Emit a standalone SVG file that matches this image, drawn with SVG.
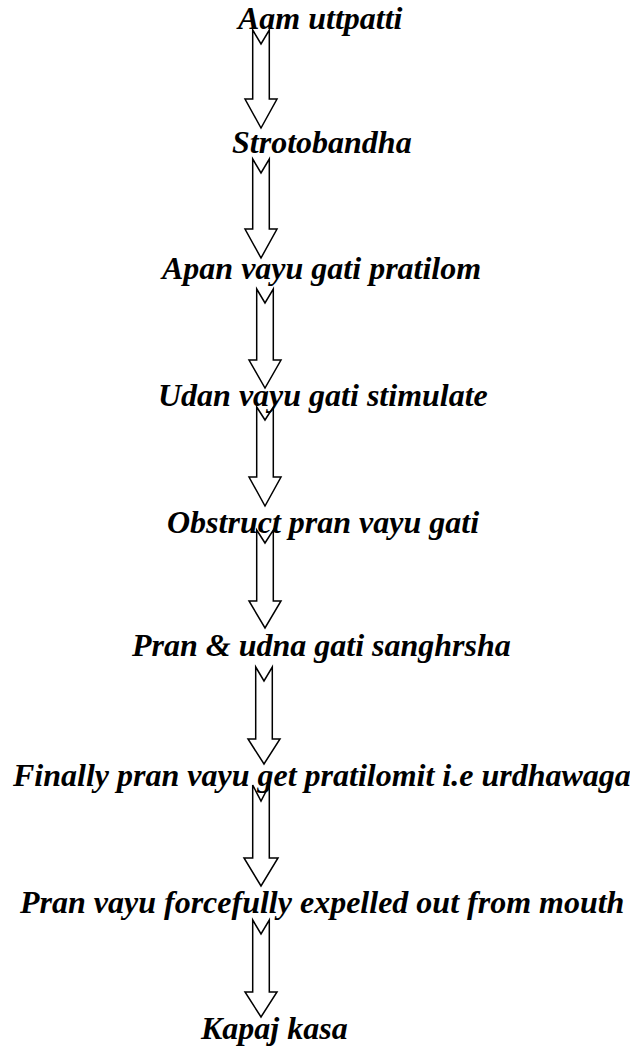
<svg xmlns="http://www.w3.org/2000/svg" width="630" height="1052" viewBox="0 0 630 1052">
<style>
.lbl{font-family:"Liberation Serif","Times New Roman",serif;font-size:32px;font-weight:bold;font-style:italic;fill:#000}
.arr{fill:none;stroke:#000;stroke-width:1.5;stroke-linejoin:miter}
</style>
<rect width="630" height="1052" fill="#fff"/>
<g id="n1"><text class="lbl" x="238" y="29">Aam uttpatti</text></g>
<g id="n2"><text class="lbl" x="232" y="153">Strotobandha</text></g>
<g id="n3"><text class="lbl" x="162" y="279">Apan vayu gati pratilom</text></g>
<g id="n4"><text class="lbl" x="158" y="406">Udan vayu gati stimulate</text></g>
<g id="n5"><text class="lbl" x="167" y="533">Obstruct pran vayu gati</text></g>
<g id="n6"><text class="lbl" x="132" y="656">Pran &amp; udna gati sanghrsha</text></g>
<g id="n7"><text class="lbl" x="13" y="786">Finally pran vayu get pratilomit i.e urdhawaga</text></g>
<g id="n8"><text class="lbl" x="20" y="913">Pran vayu forcefully expelled out from mouth</text></g>
<g id="n9"><text class="lbl" x="201" y="1039">Kapaj kasa</text></g>
<g id="connectors">
<path class="arr" d="M252.7,30 L261,44 L269.3,30 L269.3,99 L277,99 L261,128 L245,99 L252.7,99 Z"/>
<path class="arr" d="M252.7,159 L261,173 L269.3,159 L269.3,229 L277,229 L261,258 L245,229 L252.7,229 Z"/>
<path class="arr" d="M256.7,289 L265,303 L273.3,289 L273.3,360 L281,360 L265,388 L249,360 L256.7,360 Z"/>
<path class="arr" d="M256.7,407 L265,420 L273.3,407 L273.3,477 L281,477 L265,506 L249,477 L256.7,477 Z"/>
<path class="arr" d="M256.7,530 L265,543 L273.3,530 L273.3,601 L281,601 L265,628 L249,601 L256.7,601 Z"/>
<path class="arr" d="M255.7,667 L264,681 L272.3,667 L272.3,739 L280,739 L264,764 L248,739 L255.7,739 Z"/>
<path class="arr" d="M252.7,785 L261,801 L269.3,785 L269.3,858 L278,858 L261,886 L244,858 L252.7,858 Z"/>
<path class="arr" d="M252.7,920 L261,934 L269.3,920 L269.3,992 L277,992 L261,1017 L245,992 L252.7,992 Z"/>
</g>
</svg>
